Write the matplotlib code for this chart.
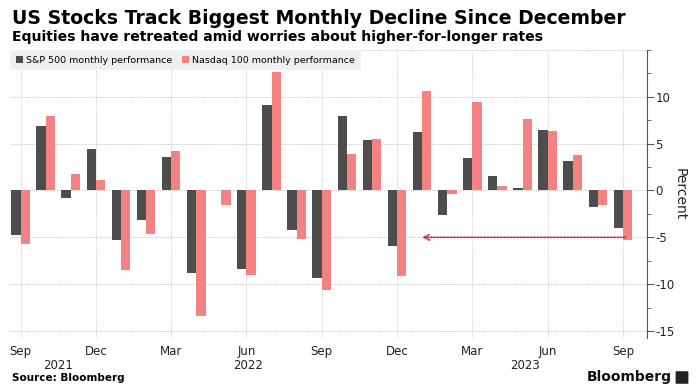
import numpy as np
import matplotlib
matplotlib.use("Agg")
import matplotlib.pyplot as plt
from matplotlib.patches import FancyBboxPatch

plt.rcParams["axes.unicode_minus"] = False

# monthly performance, Sep 2021 .. Sep 2023 (percent)
months = ["Sep 2021", "Oct 2021", "Nov 2021", "Dec 2021",
          "Jan 2022", "Feb 2022", "Mar 2022", "Apr 2022", "May 2022", "Jun 2022",
          "Jul 2022", "Aug 2022", "Sep 2022", "Oct 2022", "Nov 2022", "Dec 2022",
          "Jan 2023", "Feb 2023", "Mar 2023", "Apr 2023", "May 2023", "Jun 2023",
          "Jul 2023", "Aug 2023", "Sep 2023"]
spx = [-4.8, 6.9, -0.8, 4.4, -5.3, -3.1, 3.6, -8.8, 0.0, -8.4,
       9.1, -4.2, -9.3, 8.0, 5.4, -5.9, 6.2, -2.6, 3.5, 1.5, 0.3, 6.5,
       3.1, -1.8, -4.0]
ndx = [-5.7, 7.9, 1.8, 1.1, -8.5, -4.6, 4.2, -13.4, -1.6, -9.0,
       12.6, -5.2, -10.6, 3.9, 5.5, -9.1, 10.6, -0.4, 9.5, 0.5, 7.6, 6.3,
       3.8, -1.6, -5.3]
tick_months = ["Sep", "Dec", "Mar", "Jun", "Sep", "Dec", "Mar", "Jun", "Sep"]
years = ["2021", "2022", "2023"]
year_pos = [1.5, 9.05, 20.1]

W, H = 698, 392
fig = plt.figure(figsize=(W / 100, H / 100), dpi=100)
ax = fig.add_axes([10 / W, 1 - 338 / H, 637 / W, 288 / H])

x = np.arange(len(months))
bw = 0.37
ax.bar(x - bw / 2, spx, bw, color="#4d4d4d", label="S&P 500 monthly performance", zorder=3)
ax.bar(x + bw / 2, ndx, bw, color="#f48282", label="Nasdaq 100 monthly performance", zorder=3)

ax.set_xlim(-0.42, 24.96)
ax.set_ylim(-15.75, 15)

# right hand axis
ax.yaxis.tick_right()
ax.yaxis.set_label_position("right")
ax.set_yticks([-15, -10, -5, 0, 5, 10])
ax.set_yticks(np.arange(-15, 15.1, 2.5), minor=True)
ax.tick_params(axis="y", which="major", length=5, color="#555555", labelsize=8.5,
               labelcolor="#222222", pad=1)
ax.tick_params(axis="y", which="minor", length=3, color="#555555")
ax.set_ylabel("Percent", rotation=-90, labelpad=9, fontsize=10, color="#222222")

ax.set_xticks(np.arange(0, 25, 3))
ax.set_xticklabels(tick_months)
ax.tick_params(axis="x", length=0, labelsize=8.5, labelcolor="#222222", pad=5)
for yl, yp in zip(years, year_pos):
    ax.text(yp, -0.072, yl, transform=ax.get_xaxis_transform(), ha="center",
            va="top", fontsize=8.5, color="#222222")

for s in ["top", "left", "bottom"]:
    ax.spines[s].set_visible(False)
ax.spines["right"].set_color("#555555")

for v in [-15, -10, -5, 0, 5, 10, 15]:
    ax.axhline(v, color="#c8c8c8", lw=0.7, ls=(0, (1, 1)), zorder=1)
for v in np.arange(0, 25, 3):
    ax.axvline(v, color="#d0d0d0", lw=0.7, ls=(0, (1, 1)), zorder=1)

# arrow back to the December decline
ax.annotate("", xy=(16.0, -5.0), xytext=(24.1, -5.0),
            arrowprops=dict(arrowstyle="->", color="#c0304a", lw=1.2,
                            ls=(0, (1, 1)), shrinkA=0, shrinkB=0), zorder=4)

leg = ax.legend(loc="upper left", ncol=2, frameon=True, fontsize=6.8,
                bbox_to_anchor=(0.0, 1.0), borderaxespad=0, handlelength=0.75,
                handleheight=0.75, handletextpad=0.35, columnspacing=1.0,
                borderpad=0.6, fancybox=False)
leg.get_frame().set_facecolor("#f0f0f0")
leg.get_frame().set_edgecolor("none")
leg.get_frame().set_alpha(1)
leg.set_zorder(5)

fig.text(12 / W, 1 - 18 / H, "US Stocks Track Biggest Monthly Decline Since December",
         fontsize=13.6, fontweight="bold", va="center", ha="left")
fig.text(12 / W, 1 - 37 / H, "Equities have retreated amid worries about higher-for-longer rates",
         fontsize=10.1, fontweight="bold", va="center", ha="left")
fig.text(12 / W, 1 - 378 / H, "Source: Bloomberg", fontsize=7.5, fontweight="bold",
         va="center", ha="left")
fig.text(672 / W, 1 - 377 / H, "Bloomberg", fontsize=10, fontweight="bold",
         va="center", ha="right", color="#111111")
logo = FancyBboxPatch((677 / W, 1 - 383 / H), 10 / W, 11 / H,
                      boxstyle="round,pad=0.002", transform=fig.transFigure,
                      facecolor="#222222", edgecolor="none")
fig.patches.append(logo)

fig.savefig("out.png", dpi=100)
